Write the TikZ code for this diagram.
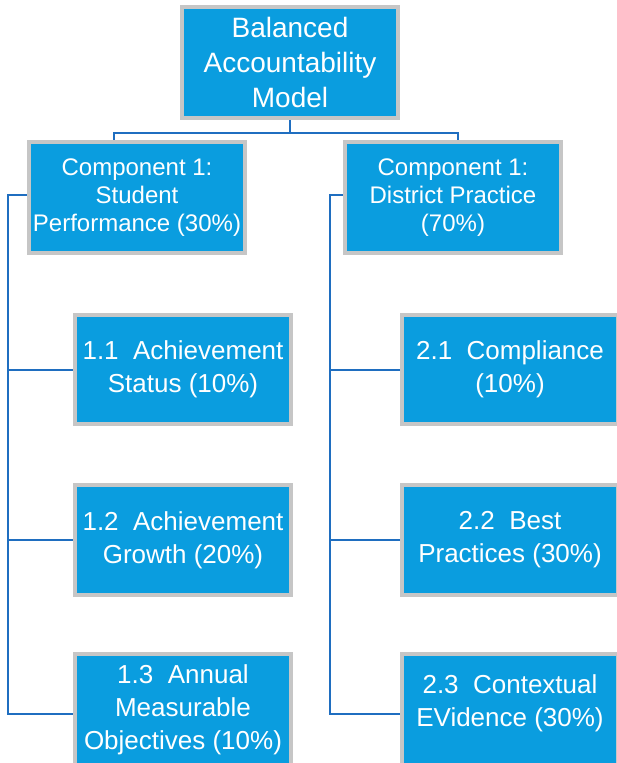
\documentclass[tikz,border=0pt]{standalone}
\usepackage{fontspec}
\setmainfont{Liberation Sans}
\definecolor{boxblue}{HTML}{0A9DDF}
\definecolor{linkblue}{HTML}{1F6EC0}
\definecolor{rim}{HTML}{C6C6C6}
\begin{document}
\begin{tikzpicture}[x=1pt,y=-1pt,
  box/.style={draw=rim, line width=4.5pt, fill=boxblue, text=white, align=center,
    inner sep=0pt, minimum width=216pt},
  topfont/.style={font=\fontsize{28}{35}\selectfont},
  compfont/.style={font=\fontsize{24}{28}\selectfont},
  subfont/.style={font=\fontsize{26}{33}\selectfont},
  link/.style={draw=linkblue, line width=2.2pt}]
\useasboundingbox (0,0) rectangle (616,763);
\fill[white] (0,0) rectangle (616,763);

\node[box, topfont, minimum height=111pt] (top) at (290,62.5) {Balanced\\Accountability\\Model};
\node[box, compfont, minimum height=111pt] (c1) at (137,197.5) {Component 1:\\Student\\Performance (30\%)};
\node[box, compfont, minimum height=111pt] (c2) at (453,197.5) {Component 1:\\District Practice\\(70\%)};

\node[box, subfont, minimum height=109pt] (s11) at (183,369.5) {1.1\ \ Achievement\\Status (10\%)};
\node[box, subfont, minimum height=110pt] (s12) at (183,540) {1.2\ \ Achievement\\Growth (20\%)};
\node[box, subfont, minimum height=112pt] (s13) at (183,710) {1.3\ \ Annual\\Measurable\\Objectives (10\%)};

\node[box, subfont, minimum height=109pt] (s21) at (510,369.5) {2.1\ \ Compliance\\(10\%)};
\node[box, subfont, minimum height=110pt] (s22) at (510,540) {2.2\ \ Best\\Practices (30\%)};
\node[box, subfont, minimum height=112pt, text depth=18pt] (s23) at (510,710) {2.3\ \ Contextual\\EVidence (30\%)};

% top connectors
\coordinate (dl) at (114,133);
\coordinate (dr) at (458,133);
\draw[link] (top.south) -- (top.south |- dl);
\draw[link] (dl |- c1.north) -- (dl) -- (dr) -- (dr |- c2.north);

% left spine
\coordinate (ltop) at (8,195);
\coordinate (lbot) at (8,714);
\draw[link] (c1.west |- ltop) -- (ltop) -- (lbot) -- (lbot -| s13.west);
\draw[link] (8,370) coordinate (l1) (l1) -- (l1 -| s11.west);
\draw[link] (8,540) coordinate (l2) (l2) -- (l2 -| s12.west);

% right spine
\coordinate (rtop) at (330,195);
\coordinate (rbot) at (330,714);
\draw[link] (c2.west |- rtop) -- (rtop) -- (rbot) -- (rbot -| s23.west);
\draw[link] (330,370) coordinate (r1) (r1) -- (r1 -| s21.west);
\draw[link] (330,540) coordinate (r2) (r2) -- (r2 -| s22.west);
\end{tikzpicture}
\end{document}
